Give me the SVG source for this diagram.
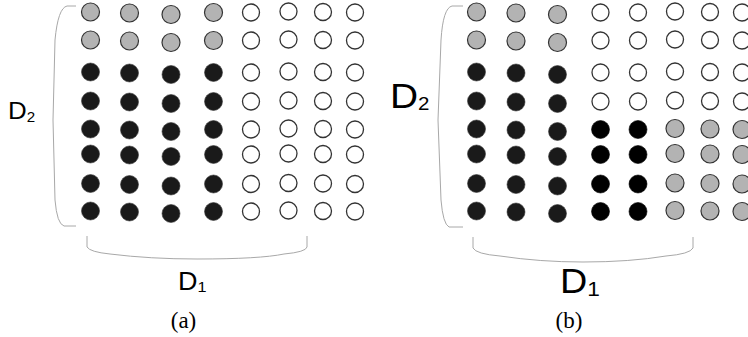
<svg xmlns="http://www.w3.org/2000/svg" xmlns:xlink="http://www.w3.org/1999/xlink" width="748" height="337" viewBox="0 0 748 337">
<style>
.g{fill:#b3b3b3;stroke:#333;stroke-width:1.2}
.k{fill:#1a1a1a;stroke:#3a3a3a;stroke-width:0.6}
.kk{fill:#000;stroke:#000;stroke-width:0.6}
.o{fill:#fff;stroke:#333;stroke-width:1.3}
.br{fill:none;stroke:#a8a8a8;stroke-width:1}
.lbl{font-family:"Liberation Sans",Arial,sans-serif;fill:#000}
.cap{font-family:"Liberation Serif","Times New Roman",serif;fill:#000;text-anchor:middle}
</style>
<defs>
<g id="colA">
<circle class="g" cx="0" cy="12" r="9"/><circle class="g" cx="0" cy="40" r="9"/>
<circle class="k" cx="0" cy="72" r="9"/><circle class="k" cx="0" cy="101" r="9"/>
<circle class="k" cx="0" cy="129" r="9"/><circle class="k" cx="0" cy="154" r="9"/>
<circle class="k" cx="0" cy="183.5" r="9"/><circle class="k" cx="0" cy="211" r="9"/>
</g>
<g id="colO">
<circle class="o" cx="0" cy="12" r="8.5"/><circle class="o" cx="0" cy="40" r="8.5"/>
<circle class="o" cx="0" cy="72" r="8.5"/><circle class="o" cx="0" cy="101" r="8.5"/>
<circle class="o" cx="0" cy="129" r="8.5"/><circle class="o" cx="0" cy="154" r="8.5"/>
<circle class="o" cx="0" cy="183.5" r="8.5"/><circle class="o" cx="0" cy="211" r="8.5"/>
</g>
<g id="colK">
<circle class="o" cx="0" cy="12" r="8.5"/><circle class="o" cx="0" cy="40" r="8.5"/>
<circle class="o" cx="0" cy="72" r="8.5"/><circle class="o" cx="0" cy="101" r="8.5"/>
<circle class="kk" cx="0" cy="129" r="9"/><circle class="kk" cx="0" cy="154" r="9"/>
<circle class="kk" cx="0" cy="183.5" r="9"/><circle class="kk" cx="0" cy="211" r="9"/>
</g>
<g id="colG">
<circle class="o" cx="0" cy="12" r="8.5"/><circle class="o" cx="0" cy="40" r="8.5"/>
<circle class="o" cx="0" cy="72" r="8.5"/><circle class="o" cx="0" cy="101" r="8.5"/>
<circle class="g" cx="0" cy="129" r="9"/><circle class="g" cx="0" cy="154" r="9"/>
<circle class="g" cx="0" cy="183.5" r="9"/><circle class="g" cx="0" cy="211" r="9"/>
</g>
</defs>

<g id="panel-a">
<g id="grid-a">
<use xlink:href="#colA" x="90.5" y="0"/>
<use xlink:href="#colA" x="129.5" y="1"/>
<use xlink:href="#colA" x="171" y="2.5"/>
<use xlink:href="#colA" x="213.5" y="0.5"/>
<use xlink:href="#colO" x="251" y="0.5"/>
<use xlink:href="#colO" x="288.5" y="-0.5"/>
<use xlink:href="#colO" x="323" y="0"/>
<use xlink:href="#colO" x="355" y="0.5"/>
</g>
<g id="brackets-a">
<path class="br" d="M76,6 L67,6 Q58,8 55,40 L53,120 L55,200 Q57,224 64,226 L76,226"/>
<path class="br" d="M87,236 L87,247 Q90,252 110,254 Q150,259 197,259 Q260,259 284,254 Q306,252 307,247 L307,236"/>
</g>
<text class="lbl" transform="translate(8,119) scale(1.08,1)" font-size="24">D<tspan font-size="14" dy="3">2</tspan></text>
<text class="lbl" transform="translate(178,290) scale(1.08,1)" font-size="25">D<tspan font-size="15" dy="2">1</tspan></text>
<text class="cap" x="183.5" y="328" font-size="23">(a)</text>
</g>

<g id="panel-b">
<g id="grid-b">
<use xlink:href="#colA" x="476.5" y="0"/>
<use xlink:href="#colA" x="516" y="1"/>
<use xlink:href="#colA" x="557.5" y="2.5"/>
<use xlink:href="#colK" x="600.5" y="0.5"/>
<use xlink:href="#colK" x="638" y="0.5"/>
<use xlink:href="#colG" x="675" y="-0.5"/>
<use xlink:href="#colG" x="710" y="0"/>
<use xlink:href="#colG" x="742" y="0.5"/>
</g>
<g id="brackets-b">
<path class="br" d="M463,6 L452,6 Q443,8 441,40 L438,120 L441,200 Q443,224 449,227 L463,227"/>
<path class="br" d="M473,237 L473,248 Q476,254 500,256 Q540,262 583,262 Q630,262 666,256 Q690,254 693,248 L693,237"/>
</g>
<text class="lbl" transform="translate(390,108) scale(1.08,1)" font-size="36">D<tspan font-size="19" dy="2">2</tspan></text>
<text class="lbl" transform="translate(560,293) scale(1.08,1)" font-size="35">D<tspan font-size="21" dy="3">1</tspan></text>
<text class="cap" x="569" y="328" font-size="23">(b)</text>
</g>
</svg>
